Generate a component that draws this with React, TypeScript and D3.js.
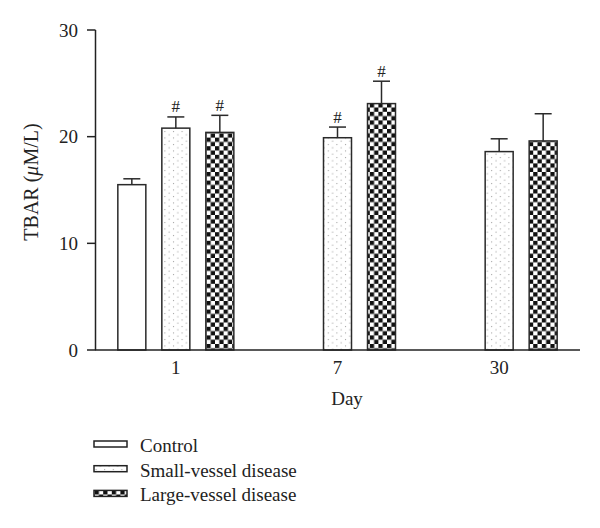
import React from "react";
import * as d3 from "d3";

const days = ["1", "7", "30"];
const seriesNames = ["Control", "Small-vessel disease", "Large-vessel disease"];
const controlValues: (number | null)[] = [15.5, null, null];
const controlErrors: (number | null)[] = [0.55, null, null];
const smallValues = [20.8, 19.9, 18.6];
const smallErrors = [1.05, 1.0, 1.2];
const largeValues = [20.4, 23.1, 19.6];
const largeErrors = [1.6, 2.1, 2.55];
const smallSig = [true, true, false];
const largeSig = [true, true, false];
const yTicks = [0, 10, 20, 30];

const W = 600;
const H = 528;
const FONT = "'Liberation Serif', 'Times New Roman', serif";
const fills = ["#ffffff", "url(#dots)", "url(#checker)"];

export default function App() {
  const x0 = d3.scaleBand<string>().domain(days).range([95, 580]).padding(0);
  const x1 = d3
    .scaleBand<string>()
    .domain(seriesNames)
    .range([-66, 66])
    .paddingInner(16 / 44)
    .paddingOuter(8 / 44);
  const y = d3.scaleLinear().domain([0, 30]).range([350, 30]);

  const series = [
    { name: seriesNames[0], values: controlValues, errors: controlErrors, sig: [false, false, false] },
    { name: seriesNames[1], values: smallValues, errors: smallErrors, sig: smallSig },
    { name: seriesNames[2], values: largeValues, errors: largeErrors, sig: largeSig },
  ];

  const bw = x1.bandwidth();
  const marks: React.ReactNode[] = [];
  days.forEach((d, di) => {
    const cx = (x0(d) as number) + x0.bandwidth() / 2;
    series.forEach((s, si) => {
      const v = s.values[di];
      if (v == null) return;
      const e = s.errors[di] as number;
      const bx = cx + (x1(s.name) as number);
      const mid = bx + bw / 2;
      marks.push(
        <g key={`${d}-${si}`}>
          <rect x={bx} y={y(v)} width={bw} height={y(0) - y(v)} fill={fills[si]} stroke="#2a2a2a" strokeWidth={1.5} />
          <line x1={mid} x2={mid} y1={y(v)} y2={y(v + e)} stroke="#2a2a2a" strokeWidth={1.5} />
          <line x1={mid - 8.5} x2={mid + 8.5} y1={y(v + e)} y2={y(v + e)} stroke="#2a2a2a" strokeWidth={1.5} />
          {s.sig[di] && (
            <text x={mid} y={y(v + e) - 4.5} textAnchor="middle" fontFamily={FONT} fontSize={17} fill="#222">
              #
            </text>
          )}
        </g>
      );
    });
  });

  return (
    <svg width={W} height={H} style={{ position: "absolute", left: 0, top: 0, background: "#fff" }}>
      <defs>
        <pattern id="dots" patternUnits="userSpaceOnUse" width={8.6} height={6.5}>
          <rect width={8.6} height={6.5} fill="#fff" />
          <circle cx={1.5} cy={1.5} r={0.6} fill="#8a8a8a" />
          <circle cx={5.8} cy={4.75} r={0.6} fill="#8a8a8a" />
        </pattern>
        <pattern id="checker" patternUnits="userSpaceOnUse" width={8.6} height={8.6}>
          <rect width={8.6} height={8.6} fill="#fff" />
          <rect x={0} y={0} width={4.3} height={4.3} fill="#111" />
          <rect x={4.3} y={4.3} width={4.3} height={4.3} fill="#111" />
        </pattern>
      </defs>
      <rect width={W} height={H} fill="#fff" />
      {marks}
      {/* axes */}
      <line x1={95.5} x2={95.5} y1={y(30)} y2={y(0)} stroke="#222" strokeWidth={1.5} />
      <line x1={95} x2={580} y1={y(0)} y2={y(0)} stroke="#222" strokeWidth={1.5} />
      {yTicks.map((t) => (
        <g key={t}>
          <line x1={87} x2={95.5} y1={y(t)} y2={y(t)} stroke="#222" strokeWidth={1.5} />
          <text x={78} y={y(t) + 6.5} textAnchor="end" fontFamily={FONT} fontSize={19} fill="#222">
            {t}
          </text>
        </g>
      ))}
      {days.map((d) => (
        <text
          key={d}
          x={(x0(d) as number) + x0.bandwidth() / 2}
          y={374}
          textAnchor="middle"
          fontFamily={FONT}
          fontSize={19}
          fill="#222"
        >
          {d}
        </text>
      ))}
      <text x={347} y={405} textAnchor="middle" fontFamily={FONT} fontSize={19} fill="#222">
        Day
      </text>
      <text
        transform={`translate(38, 182) rotate(-90)`}
        textAnchor="middle"
        fontFamily={FONT}
        fontSize={20}
        fill="#222"
      >
        TBAR (<tspan fontStyle="italic">μ</tspan>M/L)
      </text>
      {/* legend */}
      {seriesNames.map((n, i) => (
        <g key={n}>
          <rect x={94} y={441 + i * 24.7} width={33} height={6} fill={fills[i]} stroke="#222" strokeWidth={1.5} />
          <text x={140} y={452 + i * 24.7} fontFamily={FONT} fontSize={19} fill="#222">
            {n}
          </text>
        </g>
      ))}
    </svg>
  );
}
